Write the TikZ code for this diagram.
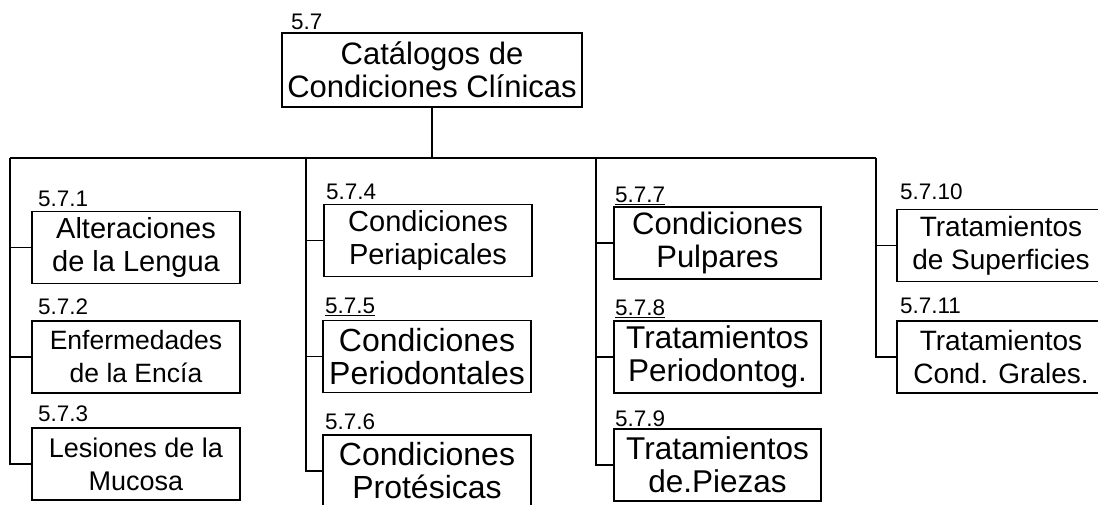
\documentclass[tikz,border=0pt]{standalone}
\usepackage{fontspec}
\setmainfont{Liberation Sans}

\begin{document}
\begin{tikzpicture}[x=1pt, y=1pt, line width=1.6pt,
  box/.style={draw, align=center, inner sep=0pt, minimum width=208pt, minimum height=72pt},
  num/.style={anchor=base west, inner sep=0pt, font=\fontsize{22.5}{26}\selectfont},
  fs/.style={font=\fontsize{#1}{33}\selectfont}]
  \useasboundingbox (0,0) rectangle (1098,504);

  % raiz
  \node[box, fs=31, minimum width=300pt, minimum height=74pt] (cat) at (432,434) {Catálogos de\\Condiciones Clínicas};
  \node[num] (n57) at ([xshift=9pt,yshift=3pt]cat.north west) {5.7};

  % columna 1
  \node[box, fs=29] (alt) at (136,256.5) {Alteraciones\\de la Lengua};
  \node[box, fs=26.5] (enf) at (136,147) {Enfermedades\\de la Encía};
  \node[box, fs=27] (les) at (136,40) {Lesiones de la\\Mucosa};
  \node[num] (n571) at ([xshift=6pt,yshift=4pt]alt.north west) {5.7.1};
  \node[num] (n572) at ([xshift=6pt,yshift=6pt]enf.north west) {5.7.2};
  \node[num] (n573) at ([xshift=6pt,yshift=6pt]les.north west) {5.7.3};

  % columna 2
  \node[box, fs=29] (peri) at (428,263.5) {Condiciones\\Periapicales};
  \node[box, fs=32] (pdon) at (427,147.5) {Condiciones\\Periodontales};
  \node[box, fs=32] (prot) at (427,33) {Condiciones\\Protésicas};
  \node[num] (n574) at ([xshift=2pt,yshift=4pt]peri.north west) {5.7.4};
  \node[num] (n575) at ([xshift=2pt,yshift=6pt]pdon.north west) {\underline{5.7.5}};
  \node[num] (n576) at ([xshift=2pt,yshift=5pt]prot.north west) {5.7.6};

  % columna 3
  \node[box, fs=31, minimum width=207pt] (pulp) at (717.5,261) {Condiciones\\Pulpares};
  \node[box, fs=31.5, minimum width=207pt] (tper) at (717.5,147) {Tratamientos\\Periodontog.};
  \node[box, fs=31.5, minimum width=207pt] (tpie) at (717.5,39) {Tratamientos\\de.Piezas};
  \node[num] (n577) at ([xshift=1pt,yshift=4pt]pulp.north west) {\underline{5.7.7}};
  \node[num] (n578) at ([xshift=1pt,yshift=5pt]tper.north west) {\underline{5.7.8}};
  \node[num] (n579) at ([xshift=1pt,yshift=2pt]tpie.north west) {\underline{5.7.9}};

  % columna 4
  \node[box, fs=28] (tsup) at (1001,258.5) {Tratamientos\\de Superficies};
  \node[box, fs=28] (tcon) at (1001,147) {Tratamientos\\Cond. Grales.};
  \node[num] (n5710) at ([xshift=3pt,yshift=9pt]tsup.north west) {5.7.10};
  \node[num] (n5711) at ([xshift=3pt,yshift=7pt]tcon.north west) {5.7.11};

  % lineas
  \coordinate (c1) at (10,346);
  \coordinate (c2) at (306,346);
  \coordinate (c3) at (596,346);
  \coordinate (c4) at (876,346);
  \draw (cat.south) -- (cat.south |- c1);
  \draw (c1) -- (c4);

  \draw (c1) |- (les.west);
  \draw (c1 |- alt.west) -- (alt.west);
  \draw (c1 |- enf.west) -- (enf.west);

  \draw (c2) |- (prot.west);
  \draw (c2 |- peri.west) -- (peri.west);
  \draw (c2 |- pdon.west) -- (pdon.west);

  \draw (c3) |- (tpie.west);
  \draw (c3 |- pulp.west) -- (pulp.west);
  \draw (c3 |- tper.west) -- (tper.west);

  \draw (c4) |- (tcon.west);
  \draw (c4 |- tsup.west) -- (tsup.west);
\end{tikzpicture}
\end{document}
